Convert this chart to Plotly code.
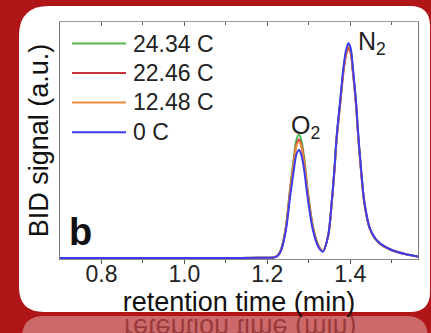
import plotly.graph_objects as go

# ---------------- data ----------------
retention_time = [0.700, 0.800, 0.900, 1.000, 1.100, 1.180, 1.205, 1.215, 1.222, 1.228,
                  1.234, 1.245, 1.255, 1.264, 1.270, 1.2765, 1.282, 1.289, 1.297, 1.310,
                  1.323, 1.334, 1.347, 1.3555, 1.362, 1.3675, 1.3755, 1.3835, 1.390, 1.3955,
                  1.401, 1.4065, 1.414, 1.4195, 1.426, 1.434, 1.4475, 1.4675, 1.500, 1.532,
                  1.5635]

signal_24_34 = [0.000, 0.000, 0.000, 0.000, 0.000, 0.001, 0.001, 0.002, 0.007, 0.018,
                0.041, 0.136, 0.297, 0.426, 0.500, 0.523, 0.500, 0.426, 0.297, 0.136,
                0.055, 0.030, 0.097, 0.237, 0.376, 0.515, 0.655, 0.795, 0.871, 0.900,
                0.880, 0.795, 0.655, 0.515, 0.376, 0.237, 0.125, 0.068, 0.034, 0.017,
                0.006]

signal_22_46 = [0.000, 0.000, 0.000, 0.000, 0.000, 0.001, 0.001, 0.002, 0.007, 0.018,
                0.039, 0.130, 0.285, 0.409, 0.480, 0.502, 0.480, 0.409, 0.285, 0.130,
                0.053, 0.029, 0.095, 0.233, 0.371, 0.508, 0.646, 0.785, 0.860, 0.888,
                0.869, 0.785, 0.646, 0.508, 0.371, 0.233, 0.123, 0.067, 0.033, 0.017,
                0.006]

signal_12_48 = [0.000, 0.000, 0.000, 0.000, 0.000, 0.001, 0.001, 0.002, 0.006, 0.017,
                0.039, 0.128, 0.281, 0.402, 0.473, 0.494, 0.473, 0.402, 0.281, 0.128,
                0.052, 0.029, 0.096, 0.236, 0.375, 0.514, 0.653, 0.793, 0.869, 0.898,
                0.878, 0.793, 0.653, 0.514, 0.375, 0.236, 0.125, 0.068, 0.034, 0.017,
                0.006]

signal_0 = [0.000, 0.000, 0.000, 0.000, 0.000, 0.001, 0.001, 0.002, 0.006, 0.016,
            0.036, 0.119, 0.260, 0.373, 0.438, 0.458, 0.438, 0.373, 0.260, 0.119,
            0.048, 0.027, 0.097, 0.239, 0.380, 0.521, 0.662, 0.804, 0.881, 0.910,
            0.890, 0.804, 0.662, 0.521, 0.380, 0.239, 0.126, 0.069, 0.034, 0.017,
            0.006]

series_names = ["24.34 C", "22.46 C", "12.48 C", "0 C"]
series_values = [signal_24_34, signal_22_46, signal_12_48, signal_0]

x_tick_values = [0.8, 1.0, 1.2, 1.4]
x_tick_labels = ["0.8", "1.0", "1.2", "1.4"]
x_minor_ticks = [0.9, 1.1, 1.3, 1.5]

peak_labels = ["O<sub>2</sub>", "N<sub>2</sub>"]
panel_label = "b"
x_title = "retention time (min)"
y_title = "BID signal (a.u.)"

# ---------------- styling ----------------
W, H = 431, 333
L, R, T, B = 60, 13, 22, 74
PW, PH = W - L - R, H - T - B
FONT = "Liberation Sans, Arial, Helvetica, sans-serif"
BG_RED = "#b01517"
colors = ["#55b955", "#c8323c", "#ee8c3c", "#3b3bf0"]


def px_x(px):
    return (px - L) / PW


def px_y(py):
    return (H - B - py) / PH


def P(px, py):
    return f"{px_x(px):.5f},{px_y(py):.5f}"


fig = go.Figure()
for name, vals, col in zip(series_names, series_values, colors):
    fig.add_trace(go.Scatter(x=retention_time, y=vals, name=name, mode="lines",
                             line=dict(color=col, width=2, shape="spline", smoothing=0.8),
                             showlegend=False, hoverinfo="skip"))

# invisible trace to create the mirrored top axis
fig.add_trace(go.Scatter(x=[retention_time[0]], y=[None], xaxis="x2", yaxis="y",
                         showlegend=False, hoverinfo="skip", mode="lines"))

shapes = []
# white rounded panel
panel = (f"M {P(49, 6)} L {P(410, 6)} Q {P(430, 6)} {P(430, 26)} "
         f"L {P(430, 292)} Q {P(430, 312)} {P(410, 312)} "
         f"L {P(44, 312)} Q {P(19, 312)} {P(19, 287)} "
         f"L {P(19, 36)} Q {P(19, 6)} {P(49, 6)} Z")
shapes.append(dict(type="path", path=panel, xref="paper", yref="paper",
                   fillcolor="white", line=dict(width=0), layer="below"))
# reflection band
refl = (f"M {P(44, 316)} L {P(406, 316)} Q {P(428, 316)} {P(428, 338)} "
        f"L {P(428, 345)} L {P(22, 345)} L {P(22, 338)} Q {P(22, 316)} {P(44, 316)} Z")
shapes.append(dict(type="path", path=refl, xref="paper", yref="paper",
                   fillcolor="rgba(255,255,255,0.36)", line=dict(width=0), layer="below"))

annotations = []
# manual legend
legend_rows = [43.5, 73, 102.5, 132.3]
for name, col, ry in zip(series_names, colors, legend_rows):
    shapes.append(dict(type="line", xref="paper", yref="paper",
                       x0=px_x(72), x1=px_x(126), y0=px_y(ry), y1=px_y(ry),
                       line=dict(color=col, width=2), layer="above"))
    annotations.append(dict(text=name, xref="paper", yref="paper", x=px_x(131), y=px_y(ry),
                            xanchor="left", yanchor="middle", showarrow=False,
                            font=dict(size=23, color="#222", family=FONT)))

# peak labels
annotations.append(dict(text=peak_labels[0], x=1.292, y=0.555, xref="x", yref="y",
                        showarrow=False, xanchor="center", yanchor="middle",
                        font=dict(size=25, color="#222", family=FONT)))
annotations.append(dict(text=peak_labels[1], x=1.452, y=0.91, xref="x", yref="y",
                        showarrow=False, xanchor="center", yanchor="middle",
                        font=dict(size=25, color="#222", family=FONT)))
# panel letter
annotations.append(dict(text=f"<b>{panel_label}</b>", xref="paper", yref="paper",
                        x=px_x(67), y=px_y(232), xanchor="left", yanchor="middle",
                        showarrow=False, font=dict(size=38, color="#111", family=FONT)))
# reflected x title (flipped by post script)
annotations.append(dict(text=x_title, xref="paper", yref="paper",
                        x=px_x(240), y=px_y(328), xanchor="center", yanchor="middle",
                        showarrow=False, font=dict(size=27, color="rgba(105,10,12,0.5)", family=FONT)))
refl_index = len(annotations) - 1

fig.update_layout(
    width=W, height=H,
    margin=dict(l=L, r=R, t=T, b=B, autoexpand=False),
    paper_bgcolor=BG_RED,
    plot_bgcolor="rgba(0,0,0,0)",
    font=dict(family=FONT, color="#222"),
    shapes=shapes,
    annotations=annotations,
    xaxis=dict(range=[0.7, 1.5635], tickvals=x_tick_values, ticktext=x_tick_labels,
               ticks="outside", ticklen=4, tickwidth=1, tickcolor="#555",
               ticklabelstandoff=-10,
               minor=dict(tickvals=x_minor_ticks, ticks="outside", ticklen=3, tickcolor="#555"),
               showline=True, linecolor="#8a8a8a", linewidth=1, mirror=False,
               showgrid=False, zeroline=False,
               tickfont=dict(size=23, color="#222", family=FONT),
               title=dict(text=x_title, font=dict(size=27, color="#111", family=FONT), standoff=0)),
    xaxis2=dict(overlaying="x", side="top", matches="x", range=[0.7, 1.5635],
                tickvals=x_tick_values, ticks="inside", ticklen=4, tickcolor="#666",
                minor=dict(tickvals=x_minor_ticks, ticks="inside", ticklen=3, tickcolor="#666"),
                showticklabels=False, showline=True, linecolor="#999", linewidth=1,
                showgrid=False, zeroline=False),
    yaxis=dict(range=[-0.004, 1.0], showticklabels=False, ticks="", showgrid=False,
               zeroline=False, showline=True, linecolor="#777", linewidth=1, mirror=True,
               title=dict(text=y_title, font=dict(size=27, color="#111", family=FONT), standoff=2)),
)

post = """
document.body.style.margin = '0';
document.body.style.overflow = 'hidden';
var ann = document.querySelector('g.annotation[data-index="%d"]');
if (ann) {
  var bb = ann.getBBox();
  var cy = bb.y + bb.height / 2;
  ann.setAttribute('transform', 'translate(0,' + (2 * cy) + ') scale(1,-1)');
}
""" % refl_index

fig.write_html("out.html", post_script=post, config={"displayModeBar": False})
